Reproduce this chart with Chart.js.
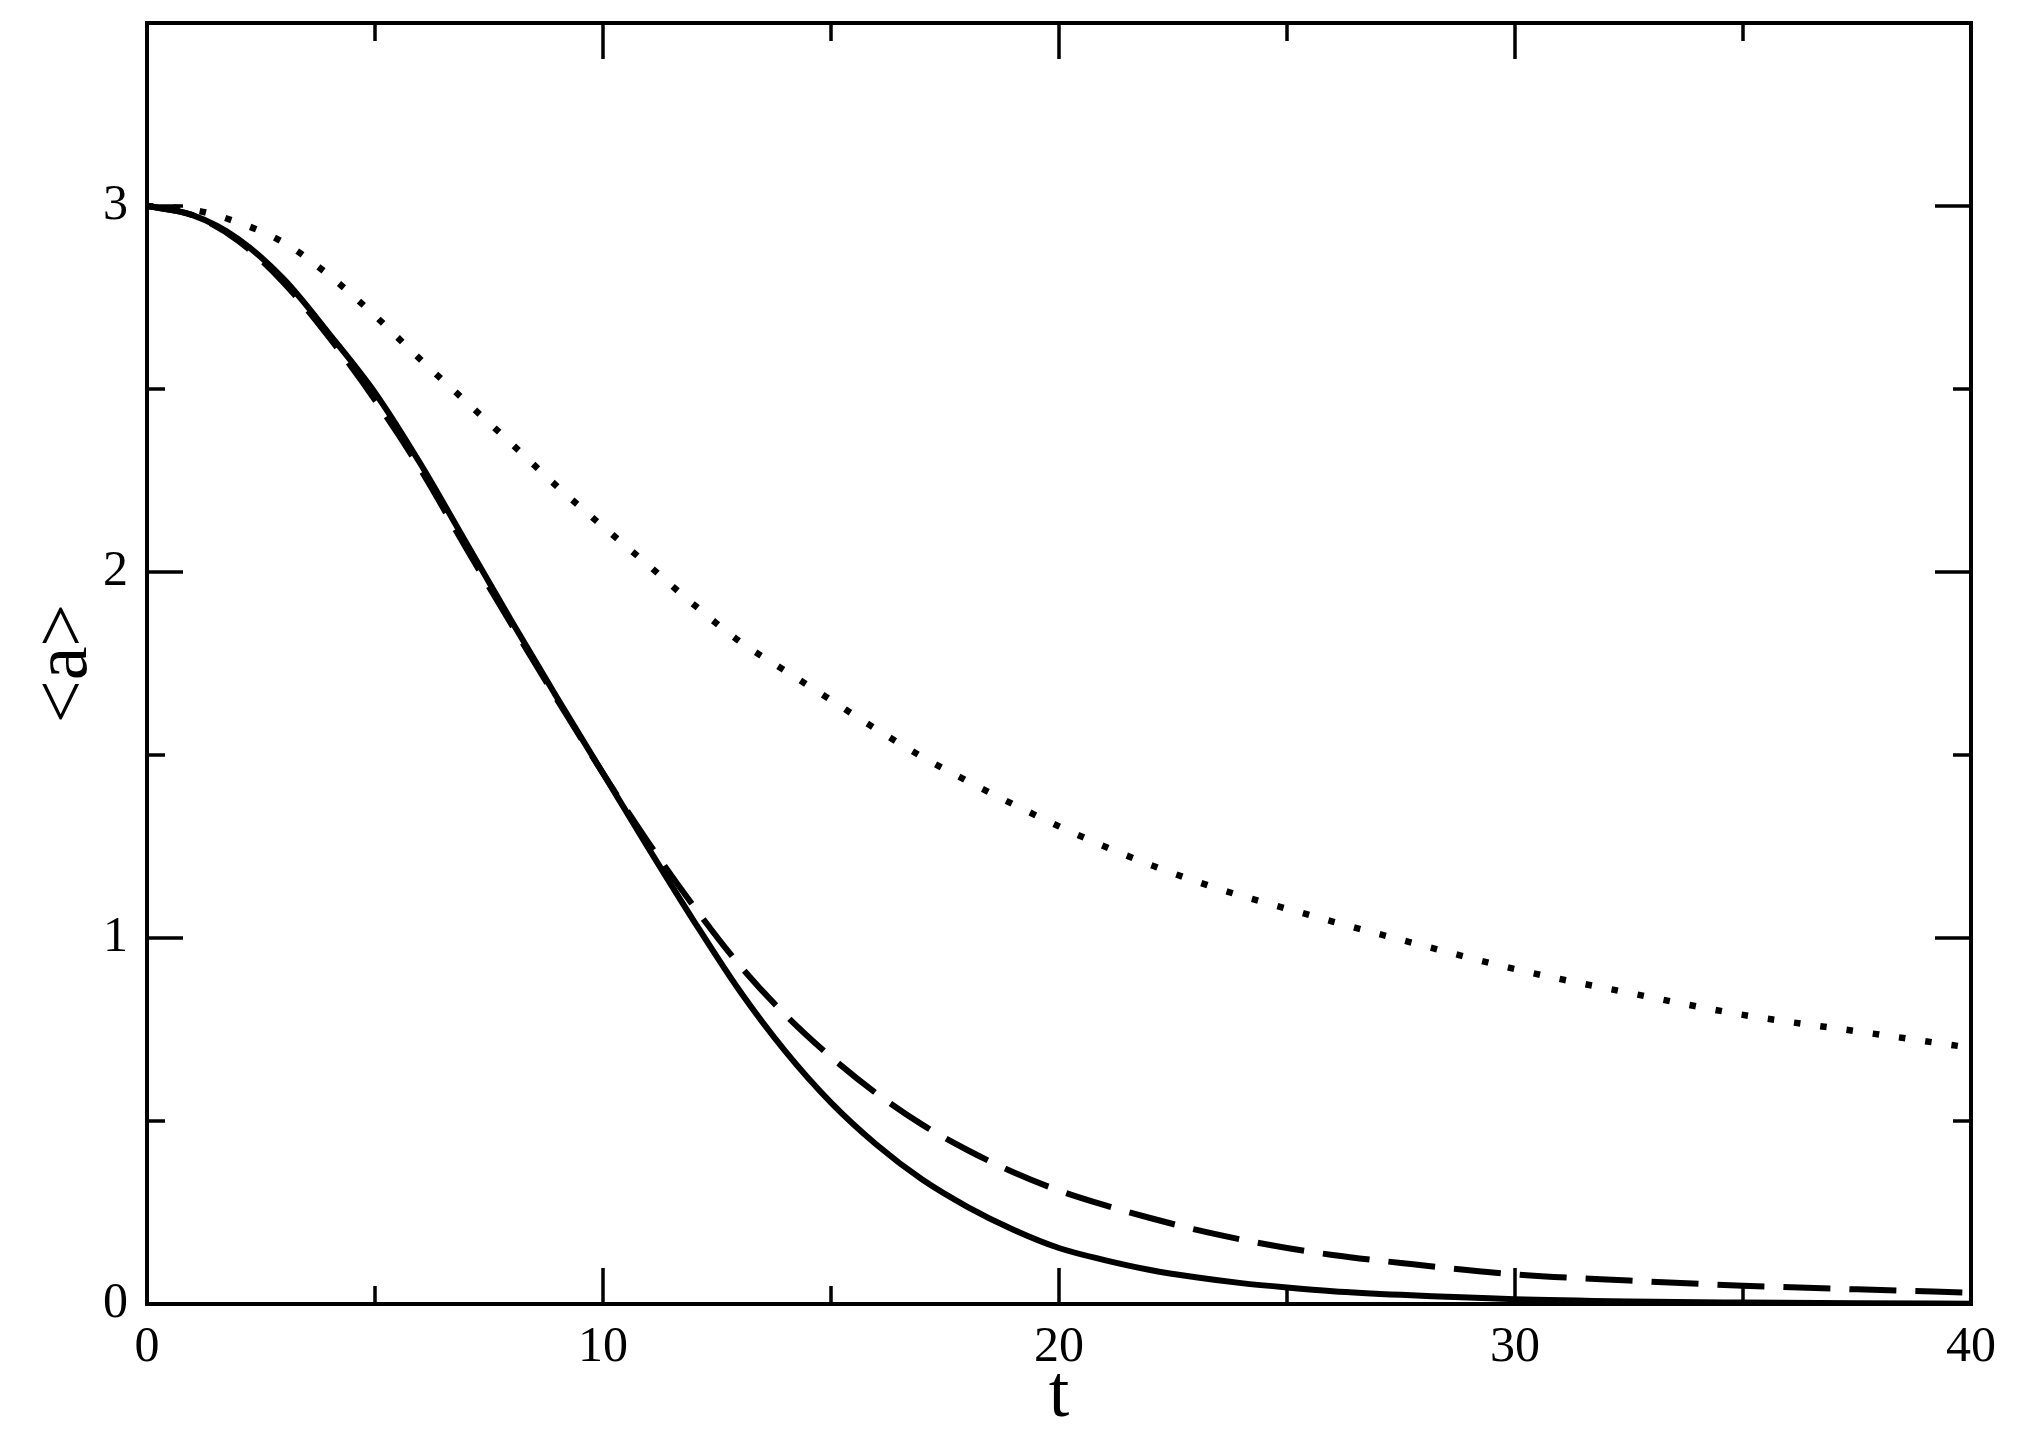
<!DOCTYPE html>
<html>
<head>
<meta charset="utf-8">
<script src="https://cdn.jsdelivr.net/npm/chart.js@4.4.1/dist/chart.umd.min.js"></script>
<style>
  html, body { margin: 0; padding: 0; background: #fff; }
  #wrap { width: 2020px; height: 1446px; }
</style>
</head>
<body>
<div id="wrap"><canvas id="grafica" width="2020" height="1446"></canvas></div>
<script>
// -------------------------
// Datos
// -------------------------
const tiempos = [0, 1, 2, 3, 4, 5, 6, 7, 8, 9, 10, 11, 12, 13, 14, 15, 16, 17, 18, 19, 20,
                 21, 22, 23, 24, 25, 26, 27.5, 30, 32.5, 35, 37.5, 40];

const serieSolida = [3.00, 2.975, 2.91, 2.80, 2.65, 2.49, 2.295, 2.08, 1.865, 1.655, 1.45,
                     1.245, 1.045, 0.855, 0.69, 0.55, 0.435, 0.34, 0.265, 0.203, 0.153,
                     0.12, 0.093, 0.073, 0.057, 0.045, 0.035, 0.025, 0.013, 0.007, 0.004, 0.002, 0.001];

const serieGuiones = [3.00, 2.975, 2.905, 2.79, 2.64, 2.47, 2.28, 2.065, 1.855, 1.65, 1.45,
                      1.26, 1.085, 0.925, 0.79, 0.675, 0.575, 0.49, 0.42, 0.36, 0.31,
                      0.27, 0.235, 0.203, 0.176, 0.153, 0.134, 0.112, 0.081, 0.064, 0.05, 0.04, 0.031];

const seriePuntos = [3.00, 2.99, 2.955, 2.90, 2.81, 2.70, 2.58, 2.465, 2.35, 2.233, 2.124,
                     2.018, 1.91, 1.81, 1.73, 1.65, 1.57, 1.495, 1.428, 1.365, 1.305,
                     1.25, 1.20, 1.155, 1.115, 1.08, 1.045, 0.995, 0.915, 0.85, 0.79, 0.745, 0.70];

const ticksX = [0, 10, 20, 30, 40];
const ticksY = [0, 1, 2, 3];
const menoresX = [5, 15, 25, 35];
const menoresY = [0.5, 1.5, 2.5];

const fuente = "'Liberation Serif', 'DejaVu Serif', serif";

function puntos(valores) {
    return tiempos.map((t, i) => ({ x: t, y: valores[i] }));
}

// -------------------------
// Marco y marcas hacia dentro
// -------------------------
const marcoPlugin = {
    id: 'marco',
    afterDatasetsDraw(chart) {
        const { ctx, chartArea: a, scales: { x, y } } = chart;
        const largo = 36, corto = 18;
        ctx.save();
        ctx.strokeStyle = '#000';
        ctx.lineWidth = 3.5;
        ctx.beginPath();
        const marcaX = (v, l) => {
            const px = x.getPixelForValue(v);
            ctx.moveTo(px, a.bottom); ctx.lineTo(px, a.bottom - l);
            ctx.moveTo(px, a.top); ctx.lineTo(px, a.top + l);
        };
        const marcaY = (v, l) => {
            const py = y.getPixelForValue(v);
            ctx.moveTo(a.left, py); ctx.lineTo(a.left + l, py);
            ctx.moveTo(a.right, py); ctx.lineTo(a.right - l, py);
        };
        ticksX.forEach(v => marcaX(v, largo));
        menoresX.forEach(v => marcaX(v, corto));
        ticksY.forEach(v => marcaY(v, largo));
        menoresY.forEach(v => marcaY(v, corto));
        ctx.stroke();
        ctx.lineWidth = 4;
        ctx.strokeRect(a.left, a.top, a.right - a.left, a.bottom - a.top);
        ctx.restore();
    }
};

new Chart(document.getElementById('grafica'), {
    type: 'line',
    data: {
        datasets: [
            {
                data: puntos(serieSolida),
                borderColor: '#000',
                borderWidth: 6,
                pointRadius: 0,
                cubicInterpolationMode: 'monotone'
            },
            {
                data: puntos(serieGuiones),
                borderColor: '#000',
                borderWidth: 6,
                borderDash: [47, 19],
                pointRadius: 0,
                cubicInterpolationMode: 'monotone'
            },
            {
                data: puntos(seriePuntos),
                borderColor: '#000',
                borderWidth: 6.5,
                borderDash: [6.5, 20],
                pointRadius: 0,
                cubicInterpolationMode: 'monotone'
            }
        ]
    },
    options: {
        responsive: false,
        animation: false,
        events: [],
        layout: { padding: { left: 0, top: 23, right: 49, bottom: 0 } },
        plugins: { legend: { display: false }, tooltip: { enabled: false } },
        scales: {
            x: {
                type: 'linear',
                min: 0,
                max: 40,
                afterBuildTicks: s => { s.ticks = ticksX.map(v => ({ value: v })); },
                afterFit: s => { s.height = 142; s.paddingLeft = 0; s.paddingRight = 0; },
                grid: { display: false, drawTicks: false },
                border: { display: false },
                ticks: {
                    padding: 14,
                    maxRotation: 0,
                    color: '#000',
                    font: { family: fuente, size: 50 }
                },
                title: {
                    display: true,
                    text: 't',
                    color: '#000',
                    padding: { top: 0, bottom: 5 },
                    font: { family: fuente, size: 74 }
                }
            },
            y: {
                type: 'linear',
                min: 0,
                max: 3.5,
                afterBuildTicks: s => { s.ticks = ticksY.map(v => ({ value: v })); },
                afterFit: s => { s.width = 147; s.paddingTop = 0; s.paddingBottom = 0; },
                grid: { display: false, drawTicks: false },
                border: { display: false },
                ticks: {
                    padding: 19,
                    color: '#000',
                    font: { family: fuente, size: 50 }
                },
                title: {
                    display: true,
                    text: '<a>',
                    color: '#000',
                    padding: { top: 20, bottom: 0 },
                    font: { family: fuente, size: 76 }
                }
            }
        }
    },
    plugins: [marcoPlugin]
});
</script>
</body>
</html>
